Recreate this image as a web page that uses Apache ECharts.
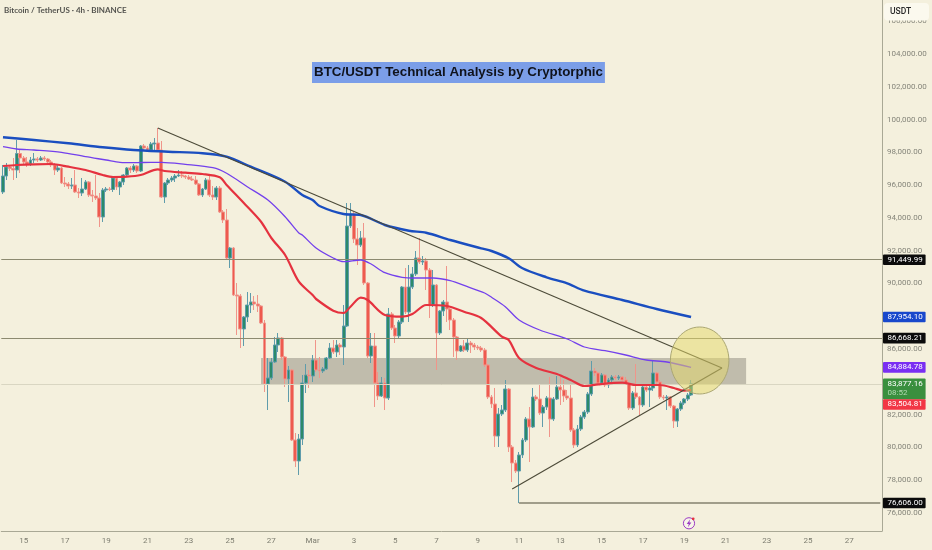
<!DOCTYPE html>
<html><head><meta charset="utf-8">
<style>html,body{margin:0;padding:0;background:#f4f0dd}#c{width:932px;height:550px}</style>
<script src="https://cdn.jsdelivr.net/npm/echarts@6/dist/echarts.min.js"></script>
</head><body><div id="c"></div>
<script>
const firstOpen = 95581;
const closes = [96557,97106,97014,96923,97929,97655,97411,97289,97533,97594,97533,97655,97594,97411,97228,96923,97045,96130,96069,95947,96008,95581,95520,95764,96191,95398,95337,95215,94056,95703,95764,95733,96435,95886,96191,96618,97045,96923,97167,96862,98387,98265,98143,98509,98570,98143,95276,96130,96313,96435,96557,96618,96557,96496,96374,96313,96069,95398,95764,96313,95398,95276,95825,94361,93873,91555,92165,89298,89237,87224,87956,88688,88871,88749,88627,87590,83869,84235,85211,86248,86675,85516,84174,84723,80453,79172,80514,83930,84418,84357,85333,84723,84662,84784,85455,86065,85821,86248,86126,87407,93507,94239,92714,92348,92775,90030,85577,86187,83930,83137,83930,83015,88139,87285,86797,87651,89786,88261,89786,90579,91555,91311,91372,90823,88688,89908,86980,88322,88871,88444,87773,86736,85882,86187,85943,86370,86248,86126,86065,85943,85028,83076,82649,80697,82039,82283,83564,80026,79050,78562,79538,80453,81734,81246,83076,82954,82100,82466,83015,81734,82954,83686,83503,83137,83015,81063,80148,81124,81856,82161,83259,84662,84540,83930,84418,83808,84113,84296,84235,84296,84113,83930,82405,83320,83076,82588,83686,83503,83625,84540,83991,83076,83015,83076,82527,81612,82344,82710,82954,83198,83877];
const highs = [97228,97350,97228,97655,98753,98143,97777,97716,97716,97960,97716,97777,97777,97655,97533,97350,97228,97106,96496,96191,96435,96923,95825,96435,96313,96252,95703,96618,95520,95825,95886,95886,96496,96557,96252,96679,97106,97167,97289,97228,98448,98509,98387,98631,98875,99485,98692,96191,96435,96557,96679,96923,96862,96618,96618,96557,96557,96130,95825,96435,96557,95947,95947,95947,94483,94544,92226,92226,90030,89359,88017,89481,89420,89237,89298,88688,87773,85455,85455,86736,86980,86736,85577,84967,84784,80880,80819,84418,85089,84723,85638,86553,85516,84906,85516,86370,86553,86553,86370,88688,94910,94910,94361,93385,93202,93690,90091,86980,86980,84601,84296,84235,88505,88261,87468,87773,89847,90945,91128,91006,91982,92775,91677,91555,90945,90823,89969,88383,88993,91067,88505,87895,86797,86248,86553,86675,86492,86370,86248,86187,86065,85089,83198,83625,82405,82588,84113,83625,80148,79233,79721,80575,81856,82466,83625,83198,83808,82588,83137,84296,83076,84357,84357,84113,83503,83808,81185,81368,81978,82283,83381,85272,84845,84601,84540,84479,84235,84418,84418,84418,84357,84296,83991,83442,85089,83137,83808,83747,83747,85272,84601,84113,83198,83198,83137,82588,82405,82832,83015,83320,84113];
const lows = [95459,96313,96862,96313,96435,96740,97228,97106,97167,97350,97411,97472,97472,97228,97106,96618,96801,96069,95886,95764,95764,95520,95215,95337,95703,95276,94971,95093,93446,93751,95581,95642,95581,95703,95398,96008,96496,96740,96801,96740,96801,98143,98021,98021,98143,98021,95215,94910,96008,96191,96191,96496,96435,96374,96313,96252,96008,95337,95276,95703,95276,95093,95093,94300,93690,91494,90945,89237,86858,86065,86187,87651,88200,88383,88261,87529,83381,82283,84113,85150,85821,85333,83686,82771,80392,78806,78318,80148,83320,83625,83991,84601,84235,84540,84723,85394,85699,85516,85638,85028,87346,93385,92470,91128,92226,89908,85455,85150,82466,82893,83076,82283,82893,87163,86370,86675,87529,88139,87651,89664,90457,91189,91128,89603,87895,88566,84723,86858,88017,87651,87163,85516,85333,85821,85821,85821,85760,85943,85943,85821,84906,82954,82405,80026,80026,81917,82161,79721,77891,78440,76606,79355,80331,79111,81185,82832,81978,81246,82283,80636,81612,82893,82588,82771,82893,80941,79965,80026,81002,81734,82039,83137,84357,83808,83808,83686,83625,83991,84113,84113,84052,83808,82283,82283,82954,81978,82466,83381,82466,83442,83869,82954,82893,82283,82405,81185,81246,82222,82588,82832,83137];
const opens = [firstOpen, ...closes.slice(0, -1)];

const ema50Idx = [0,4,9,14,19,24,29,32,36,40,45,47,53,58,63,65,70,75,78,82,86,90,91,96,99,101,104,106,111,116,119,123,129,134,139,145,147,150,155,161,165,169,173,180,184,191,195,198,200];
const ema50Val = [97167,97228,97271,97289,97124,96923,96618,96496,96514,96618,96966,96862,96758,96679,96478,96008,94910,93769,92775,91738,90109,89298,89054,88340,88200,88584,89133,88993,88078,87974,88139,88688,88627,88279,87895,86754,86553,85455,84845,84479,84113,83747,83851,83947,83808,83808,83625,83460,83505];
const ema100Idx = [0,4,9,17,24,30,34,38,43,46,53,61,65,71,77,82,86,87,91,96,99,104,107,111,116,120,125,130,135,140,142,146,150,156,164,169,175,181,187,193,200];
const ema100Val = [98344,98204,98143,98003,97734,97533,97393,97368,97393,97393,97271,97063,96722,95904,95093,94074,93080,92958,92165,91555,91329,91433,91189,90658,90378,90335,90335,90170,89804,89420,89158,88584,87773,87163,86614,86126,85900,85638,85333,85211,84885];
const ema200Idx = [0,9,19,29,38,48,58,65,72,82,87,90,92,99,104,111,118,123,130,139,142,147,151,158,164,169,180,190,200];
const ema200Val = [98918,98753,98552,98308,98143,98039,97942,97734,97124,96209,95398,95093,94727,94239,94178,93568,93220,93098,92653,92146,91982,91537,90927,90378,90011,89560,88993,88444,87954];

const resistanceLine = [[45,99485],[209,84845]];
const supportLine = [[148,77464],[209,84845]];
const lowLine = [[150,76606],[255,76606]];
const levels = [91449.99, 86668.21];
const lastPrice = 83877.16;
const zoneIdx = [75, 216];
const zonePrice = [85455, 83808];
const circleIdx = [194, 211];
const circlePrice = [83259, 87346];

const yTicks = [76000,78000,80000,82000,84000,86000,88000,90000,92000,94000,96000,98000,100000,102000,104000,106000];
const dayTickIdx = [6,18,30,42,54,66,78,90,102,114,126,138,150,162,174,186,198,210,222,234,246];
const dayTickNames = ['15','17','19','21','23','25','27','Mar','3','5','7','9','11','13','15','17','19','21','23','25','27'];
const tagPrices = [91449.99,87954.10,86668.21,84884.78,83877.16,83504.81,76606.00];
const tagTexts = ['91,449.99','87,954.10','86,668.21','84,884.78','83,877.16','83,504.81','76,606.00'];
const tagColors = ['#0b0b0b','#1848cc','#0b0b0b','#7a2ff2','#3a8f3e','#f23645','#0b0b0b'];

const categories = new Array(256).fill('');
dayTickIdx.forEach((d, k) => { categories[d] = dayTickNames[k]; });
const zipLine = (a, b) => a.map((x, k) => [x, b[k]]);
const candleData = closes.map((c, k) => [opens[k], c, lows[k], highs[k]]);
const FONT = 'Roboto';
const trend = (name, d) => ({ name, type: 'line', data: d, showSymbol: false, symbol: 'none', silent: true, z: 6, animation: false,
  lineStyle: { color: '#4c4a38', width: 1.1 } });
const ma = (name, x, y, color, width) => ({ name, type: 'line', data: zipLine(x, y), showSymbol: false, symbol: 'none', smooth: 0.3, z: 5, animation: false,
  lineStyle: { color, width } });

const chart = echarts.init(document.getElementById('c'), null, { renderer: 'canvas', width: 932, height: 550 });
chart.setOption({
  animation: false,
  backgroundColor: '#f4f0dd',
  title: [
    { text: 'BTC/USDT Technical Analysis by Cryptorphic', left: 312, top: 62, backgroundColor: '#7b9ee8', padding: [3, 2, 3, 2],
      textStyle: { fontFamily: 'Liberation Sans', fontWeight: 'bold', fontSize: 13.35, color: '#10131c', lineHeight: 15 } },
    { text: 'Bitcoin / TetherUS · 4h · BINANCE', left: 4, top: 5, padding: 0,
      textStyle: { fontFamily: 'Lato', fontWeight: 'bold', fontSize: 8, color: '#555550', lineHeight: 10 } }
  ],
  grid: { left: 0, top: 0, width: 882, height: 531, containLabel: false },
  xAxis: {
    type: 'category', data: categories, boundaryGap: true,
    axisLine: { lineStyle: { color: '#a9a895', width: 1 } }, axisTick: { show: false }, splitLine: { show: false },
    axisLabel: { interval: 0, hideOverlap: false, margin: 6, color: '#7d7d70', fontSize: 8, fontFamily: FONT }
  },
  yAxis: {
    type: 'value', position: 'right', min: 74902, max: 107293, scale: true,
    axisLine: { show: true, lineStyle: { color: '#a9a895', width: 1 } }, axisTick: { show: false }, splitLine: { show: false },
    axisLabel: { customValues: yTicks, margin: 5, color: '#85857a', fontSize: 8, fontFamily: FONT,
      formatter: v => Number(v).toLocaleString('en-US', { minimumFractionDigits: 2, maximumFractionDigits: 2 }) }
  },
  series: [
    { name: 'levels', type: 'line', data: [], z: 2, silent: true,
      markLine: { symbol: 'none', silent: true, label: { show: false }, animation: false,
        data: levels.map(v => ({ yAxis: v, lineStyle: { color: '#8c8a70', width: 1.2, type: 'solid' } }))
          .concat([{ yAxis: lastPrice, lineStyle: { color: '#d9d6c2', width: 1, type: 'solid' } }]) },
      markArea: { silent: true, itemStyle: { color: 'rgba(118,116,104,0.42)' },
        data: [[{ xAxis: zoneIdx[0], yAxis: zonePrice[0] }, { xAxis: zoneIdx[1], yAxis: zonePrice[1] }]] } },
    { name: 'BTCUSDT', type: 'candlestick', data: candleData, barWidth: 3.4, z: 3, animation: false,
      itemStyle: { color: '#2b8a6a', color0: '#ee5a4e', borderColor: '#5f9cab', borderColor0: '#f0958a', borderWidth: 1 } },
    ma('EMA 200', ema200Idx, ema200Val, '#1a4ec0', 2.4),
    ma('EMA 100', ema100Idx, ema100Val, '#7340ec', 1.3),
    ma('EMA 50', ema50Idx, ema50Val, '#e5323f', 2.2),
    trend('resistance', resistanceLine),
    trend('support', supportLine),
    trend('low', lowLine),
    { name: 'circle', type: 'custom', data: [[0]], z: 7, silent: true, clip: false,
      renderItem: (params, api) => {
        const a = api.coord([circleIdx[0], circlePrice[0]]);
        const b = api.coord([circleIdx[1], circlePrice[1]]);
        return { type: 'ellipse', shape: { cx: (a[0] + b[0]) / 2, cy: (a[1] + b[1]) / 2, rx: Math.abs(b[0] - a[0]) / 2, ry: Math.abs(b[1] - a[1]) / 2 },
          style: { fill: 'rgba(228,216,104,0.5)', stroke: '#aba773', lineWidth: 1 } };
      } },
    { name: 'tags', type: 'custom', data: tagPrices.map(p => [0, p]), z: 20, silent: true, clip: false,
      renderItem: (params, api) => {
        const k = params.dataIndex;
        let y = api.coord([0, tagPrices[k]])[1];
        const isLive = k === 4, isNext = k === 5;
        if (isNext) y += 14.5;
        const children = [
          { type: 'rect', shape: { x: 883, y: y - 5.3, width: 42.6, height: isLive ? 21 : 10.6, r: 1 }, style: { fill: tagColors[k] } },
          { type: 'text', style: { x: 887.5, y: y, text: tagTexts[k], fill: '#ffffff', font: '8px ' + FONT, verticalAlign: 'middle', textVerticalAlign: 'middle' } }
        ];
        if (isLive) children.push({ type: 'text', style: { x: 887.5, y: y + 9, text: '08:52', fill: '#b3dab3', font: '8px ' + FONT, verticalAlign: 'middle', textVerticalAlign: 'middle' } });
        return { type: 'group', children };
      } }
  ],
  graphic: [
    { type: 'rect', z: 30, shape: { x: 884, y: 3, width: 45, height: 17.5, r: 4 }, style: { fill: '#fbf9ee' } },
    { type: 'text', z: 31, style: { x: 890, y: 7, text: 'USDT', fill: '#2a2a2a', font: '500 8.5px ' + FONT } },
    { type: 'circle', z: 30, shape: { cx: 689, cy: 523.3, r: 5.6 }, style: { fill: 'rgba(255,255,255,0.35)', stroke: '#9c3cc4', lineWidth: 1 } },
    { type: 'polygon', z: 31, shape: { points: [[690.2, 519.3], [686.7, 523.9], [688.8, 523.9], [687.9, 527.3], [691.4, 522.6], [689.3, 522.6]] }, style: { fill: '#9c3cc4' } },
    { type: 'circle', z: 32, shape: { cx: 693.2, cy: 518.8, r: 1.4 }, style: { fill: '#e5323f' } }
  ]
});
</script></body></html>
